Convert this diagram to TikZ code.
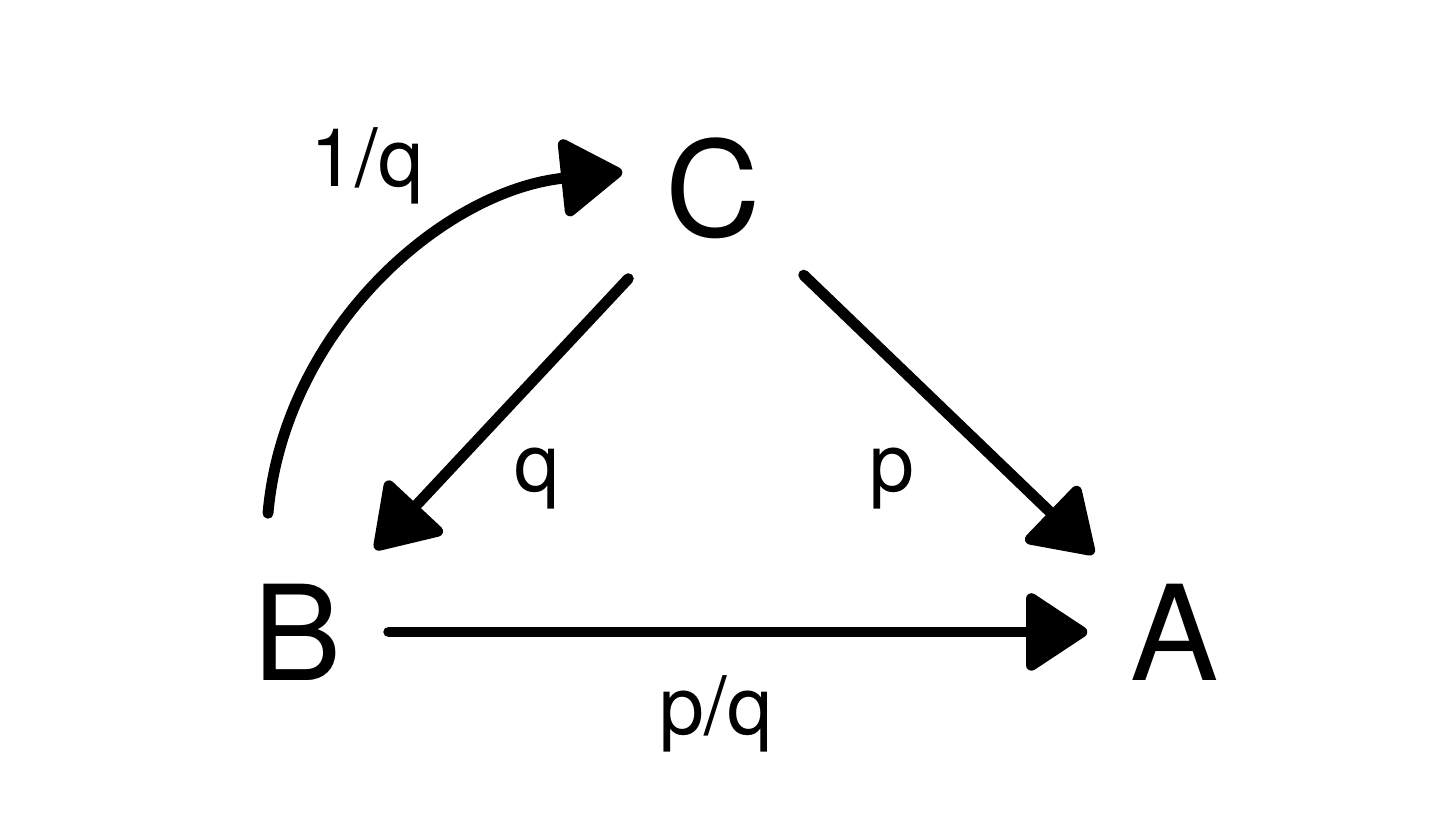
\documentclass[tikz,border=0pt]{standalone}
\usepackage{fontspec}
\setmainfont{TeX Gyre Heros}
\usetikzlibrary{arrows.meta}
\tikzset{
    vertex/.style={rectangle, minimum width=1.8cm, minimum height=1.8cm, inner sep=0pt, font=\fontsize{37.6}{40}\selectfont},
    weight/.style={anchor=base, inner sep=0pt, font=\fontsize{23}{26}\selectfont},
    arr/.style={line width=3.1pt, line cap=round, -{Triangle[length=0.66cm, width=0.84cm, round]}}
}
\begin{document}
\begin{tikzpicture}
    \useasboundingbox (0,0) rectangle (14.48,8.21);

    % Vertices
    \node[vertex] (B) at (2.98,1.89) {B};
    \node[vertex] (A) at (11.75,1.89) {A};
    \node[vertex] (C) at (7.13,6.33) {C};

    % Edges
    \draw[arr, shorten >=-0.03cm] (B) -- (A);
    \draw[arr, shorten >=-0.11cm] (C) -- (B);
    \draw[arr, shorten >=-0.13cm] (C) -- (A);
    \draw[arr] ([shift={(-0.3,0.28)}]B.north) to[out=85, in=186, looseness=0.95] ([yshift=0.16cm]C.west);

    % Edge weights
    \node[weight] (wBC) at (3.67,6.34) {1/q};
    \node[weight] (wCB) at (5.37,3.29) {q};
    \node[weight] (wCA) at (8.92,3.29) {p};
    \node[weight] (wBA) at (7.16,0.86) {p/q};
\end{tikzpicture}
\end{document}
